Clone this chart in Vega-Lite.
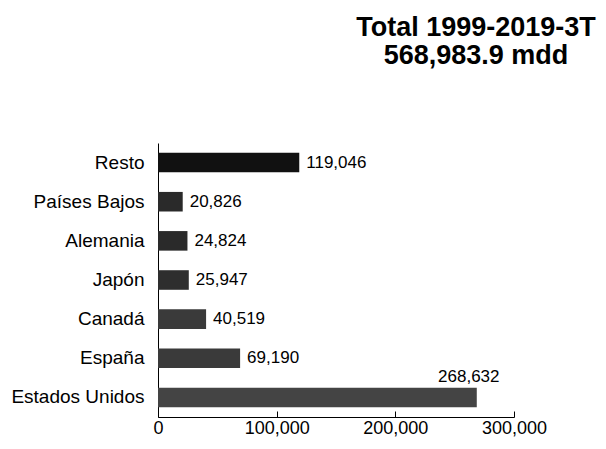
{
  "$schema": "https://vega.github.io/schema/vega-lite/v6.json",
  "autosize": "none",
  "width": 356,
  "height": 274,
  "padding": {"left": 158, "top": 143, "right": 92, "bottom": 32},
  "background": "white",
  "config": {
    "view": {"stroke": null},
    "font": "Liberation Sans",
    "axis": {"labelFont": "Liberation Sans", "labelColor": "black", "domainColor": "black", "tickColor": "black", "labelFontSize": 18, "grid": false}
  },
  "title": {
    "text": ["Total 1999-2019-3T", "568,983.9 mdd"],
    "font": "Liberation Sans",
    "fontSize": 27,
    "fontWeight": "bold",
    "color": "black",
    "anchor": "middle",
    "dx": 140,
    "offset": 73,
    "lineHeight": 28
  },
  "data": {
    "values": [
      {"pais": "Resto", "valor": 119046},
      {"pais": "Países Bajos", "valor": 20826},
      {"pais": "Alemania", "valor": 24824},
      {"pais": "Japón", "valor": 25947},
      {"pais": "Canadá", "valor": 40519},
      {"pais": "España", "valor": 69190},
      {"pais": "Estados Unidos", "valor": 268632}
    ]
  },
  "encoding": {
    "y": {
      "field": "pais",
      "type": "nominal",
      "sort": ["Resto", "Países Bajos", "Alemania", "Japón", "Canadá", "España", "Estados Unidos"],
      "scale": {"paddingInner": 0.5, "paddingOuter": 0.25},
      "axis": {"title": null, "ticks": false, "labelPadding": 14, "labelFontSize": 19}
    },
    "x": {
      "field": "valor",
      "type": "quantitative",
      "scale": {"domain": [0, 300000], "nice": false},
      "axis": {"title": null, "values": [0, 100000, 200000, 300000], "labelExpr": "format(datum.value, ',d')", "tickSize": -6, "labelPadding": 8, "labelFlush": false}
    }
  },
  "layer": [
    {
      "mark": {"type": "bar"},
      "encoding": {
        "color": {
          "field": "pais",
          "type": "nominal",
          "legend": null,
          "scale": {
            "domain": ["Resto", "Países Bajos", "Alemania", "Japón", "Canadá", "España", "Estados Unidos"],
            "range": ["#111111", "#2a2a2a", "#2a2a2a", "#2e2e2e", "#3a3a3a", "#3a3a3a", "#444444"]
          }
        }
      }
    },
    {
      "transform": [{"filter": "datum.pais !== 'Estados Unidos'"}],
      "mark": {"type": "text", "align": "left", "dx": 7, "fontSize": 17, "font": "Liberation Sans", "color": "black"},
      "encoding": {"text": {"field": "valor", "type": "quantitative", "format": ","}}
    },
    {
      "transform": [{"filter": "datum.pais === 'Estados Unidos'"}],
      "mark": {"type": "text", "align": "center", "dx": -8, "dy": -20, "fontSize": 17, "font": "Liberation Sans", "color": "black"},
      "encoding": {"text": {"field": "valor", "type": "quantitative", "format": ","}}
    }
  ]
}
